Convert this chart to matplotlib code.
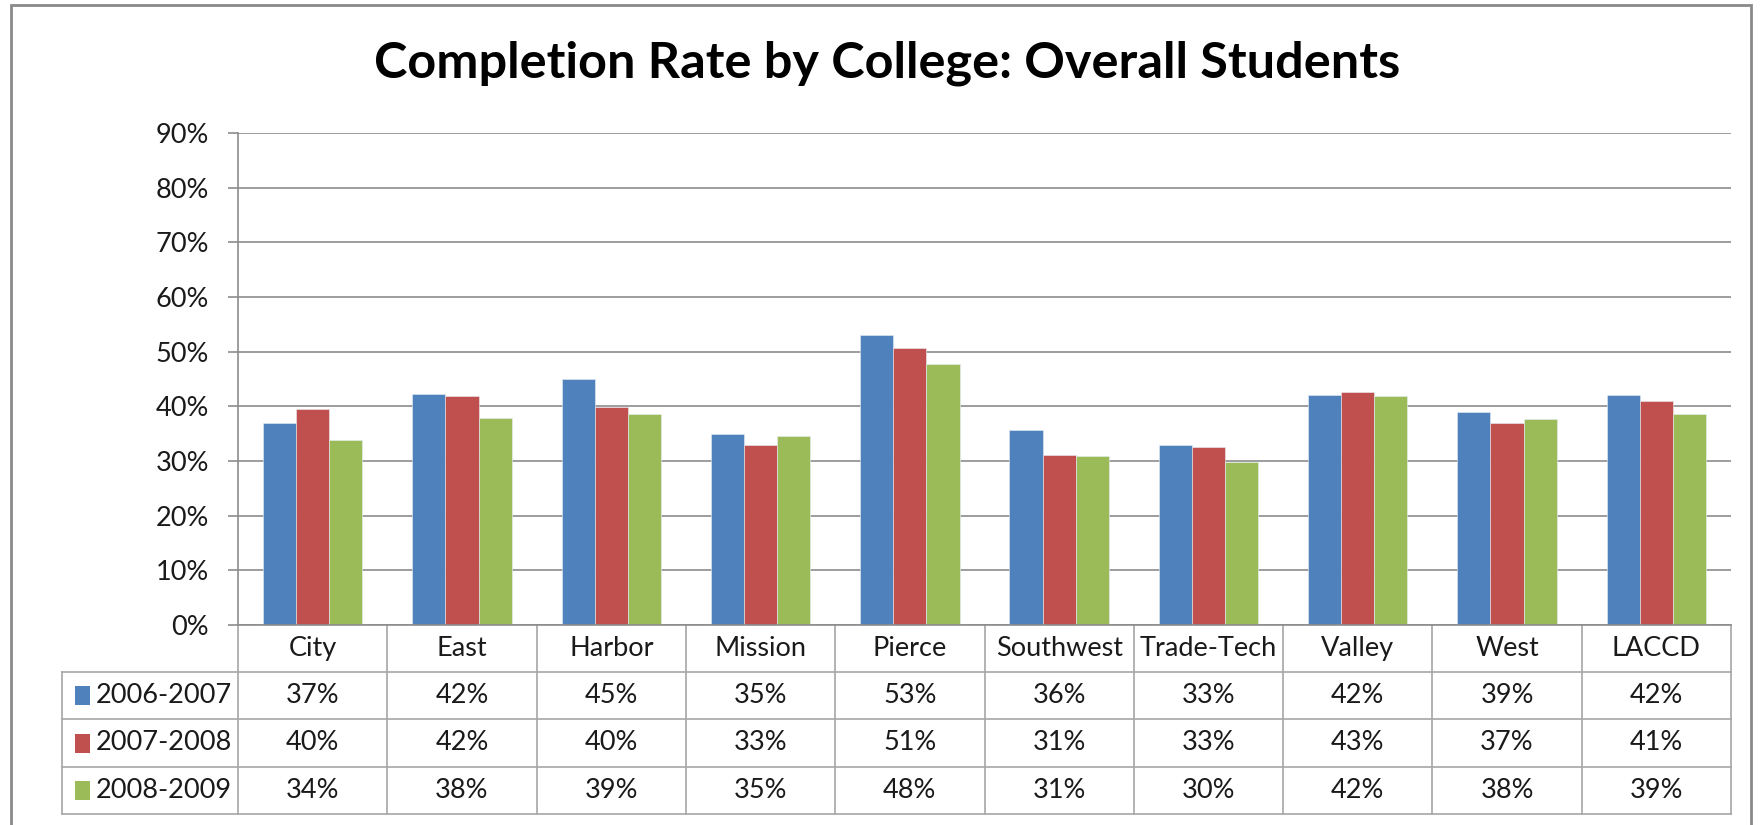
import matplotlib
matplotlib.use("Agg")
import matplotlib.pyplot as plt
from matplotlib.patches import Rectangle
from matplotlib.lines import Line2D
import matplotlib.transforms as mtransforms
import numpy as np

# ---------------- data ----------------
colleges = ["City", "East", "Harbor", "Mission", "Pierce", "Southwest",
            "Trade-Tech", "Valley", "West", "LACCD"]
series_names = ["2006-2007", "2007-2008", "2008-2009"]
rate_2006_2007 = [37.0, 42.3, 45.0, 34.9, 53.0, 35.6, 33.0, 42.1, 38.9, 42.1]
rate_2007_2008 = [39.6, 41.8, 39.9, 33.0, 50.6, 31.1, 32.6, 42.6, 37.0, 41.0]
rate_2008_2009 = [33.8, 37.8, 38.6, 34.6, 47.7, 30.9, 29.8, 41.8, 37.6, 38.6]
yticks = [0, 10, 20, 30, 40, 50, 60, 70, 80, 90]
title = "Completion Rate by College: Overall Students"

series = [rate_2006_2007, rate_2007_2008, rate_2008_2009]
colors = ["#4F81BD", "#C0504D", "#9BBB59"]

FONT = "Lato"
plt.rcParams["font.family"] = [FONT, "DejaVu Sans"]

W, H = 1763, 825
fig = plt.figure(figsize=(W / 100, H / 100), dpi=100)
fig.patch.set_facecolor("white")

# axes placement in pixels
ax_l, ax_r, ax_t, ax_b = 238, 1731, 133, 625
ax = fig.add_axes([ax_l / W, 1 - ax_b / H, (ax_r - ax_l) / W, (ax_b - ax_t) / H])

n = len(colleges)
x = np.arange(n)
bw = 0.222
for i, (vals, c) in enumerate(zip(series, colors)):
    ax.bar(x + (i - 1) * bw, vals, width=bw, color=c, edgecolor="#e8eef6",
           linewidth=0.4, zorder=3, label=series_names[i])

ax.set_xlim(-0.5, n - 0.5)
ax.set_ylim(0, 90)
ax.set_yticks(yticks)
ax.set_yticklabels([f"{t}%" for t in yticks], fontsize=19.5, color="#1a1a1a")
ax.yaxis.grid(True, color="#8c8c8c", linewidth=1.2, zorder=0)
ax.set_xticks([])
for s in ["top", "right", "bottom"]:
    ax.spines[s].set_visible(False)
ax.spines["left"].set_color("#8c8c8c")
ax.spines["left"].set_linewidth(1.2)
ax.tick_params(axis="y", length=7, width=1.2, color="#8c8c8c", pad=14)

# ---------------- data table ----------------
axh = ax_b - ax_t
def ay(py):
    return (ax_b - py) / axh
def axx(px):
    return (px - ax_l) / (ax_r - ax_l)

row_edges = [625, 672, 719, 767, 814]
tcol = "#a6a6a6"
lw = 1.2
blend = mtransforms.blended_transform_factory(ax.transData, ax.transAxes)

ax.add_line(Line2D([0, 1], [0, 0], transform=ax.transAxes, color="#8c8c8c",
                   lw=lw, clip_on=False, zorder=4))
for py in row_edges[1:]:
    ax.add_line(Line2D([axx(62), 1], [ay(py), ay(py)], transform=ax.transAxes,
                       color=tcol, lw=lw, clip_on=False))
for k in range(n + 1):
    ax.add_line(Line2D([k - 0.5, k - 0.5], [0, ay(814)], transform=blend,
                       color=tcol, lw=lw, clip_on=False))
ax.add_line(Line2D([axx(62), axx(62)], [ay(672), ay(814)], transform=ax.transAxes,
                   color=tcol, lw=lw, clip_on=False))

hy = ay((row_edges[0] + row_edges[1]) / 2)
for k, name in enumerate(colleges):
    ax.text(k, hy, name, transform=blend, ha="center", va="center",
            fontsize=19.5, color="#1a1a1a", clip_on=False)

for r, (vals, c, sname) in enumerate(zip(series, colors, series_names)):
    cy = ay((row_edges[r + 1] + row_edges[r + 2]) / 2)
    ax.add_patch(Rectangle((axx(74.5), cy - 9.5 / axh), (90 - 74.5) / (ax_r - ax_l),
                           19 / axh, transform=ax.transAxes, facecolor=c,
                           edgecolor="none", clip_on=False))
    ax.text(axx(96), cy, sname, transform=ax.transAxes, ha="left", va="center",
            fontsize=19.5, color="#1a1a1a", clip_on=False)
    for k, v in enumerate(vals):
        ax.text(k, cy, f"{v:.0f}%", transform=blend, ha="center", va="center",
                fontsize=19.5, color="#1a1a1a", clip_on=False)

fig.text(887 / W, 1 - 63 / H, title, ha="center", va="center",
         fontsize=36.3, fontweight="bold", color="black")

fig.add_artist(Rectangle((11 / W, -0.05), (1751 - 11) / W, 1 - 5 / H + 0.05,
                         transform=fig.transFigure, facecolor="none",
                         edgecolor="#8a8a8a", linewidth=2))

fig.savefig("out.png", dpi=100)
